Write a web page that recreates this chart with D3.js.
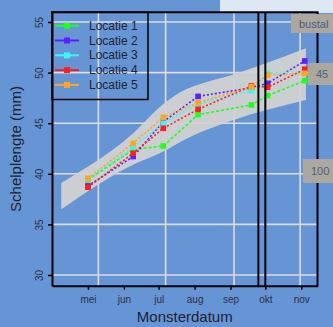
<!DOCTYPE html>
<html>
<head>
<meta charset="utf-8">
<script src="https://cdn.jsdelivr.net/npm/d3@7"></script>
<style>
  html, body { margin: 0; padding: 0; background: #6695d6; }
  svg { display: block; font-family: "Liberation Sans", Arial, sans-serif; }
</style>
</head>
<body>
<div id="chart"></div>
<script>
// data
const monthLabels = ['mei', 'jun', 'jul', 'aug', 'sep', 'okt', 'nov'];
const monthDates = ['2023-05-01', '2023-06-01', '2023-07-01', '2023-08-01', '2023-09-01', '2023-10-01', '2023-11-01'];
const gridDates = ['2023-05-10', '2023-07-07', '2023-09-04', '2023-10-31'];
const yTicks = [30, 35, 40, 45, 50, 55];
const sampleDates = ['2023-05-01', '2023-06-09', '2023-07-05', '2023-08-04', '2023-09-19', '2023-10-03', '2023-11-04'];
const locatie1 = [39.4, 42.4, 42.75, 45.85, 46.8, 47.74, 49.2];
const locatie2 = [38.8, 41.7, 45.15, 47.65, 48.5, 48.94, 51.15];
const locatie3 = [39.5, 42.65, 45.0, 46.9, 48.2, 49.96, 50.1];
const locatie4 = [38.67, 42.03, 44.5, 46.37, 48.68, 48.55, 50.33];
const locatie5 = [39.56, 43.01, 45.58, 47.03, 48.6, 49.76, 49.93];
const seriesNames = ['Locatie 1', 'Locatie 2', 'Locatie 3', 'Locatie 4', 'Locatie 5'];
const bandDates = ['2023-04-08', '2023-06-09', '2023-07-05', '2023-07-22', '2023-08-04', '2023-09-03', '2023-11-05'];
const bandHigh = [39.1, 44.0, 46.9, 48.2, 48.8, 49.8, 52.4];
const bandLow = [36.5, 40.9, 42.2, 43.3, 44.0, 45.3, 47.3];
const markDates = ['2023-09-25', '2023-10-01'];
const sideLabels = ['bustal', '45', '100'];

const colors = ['#1eff1e', '#5a1eff', '#3cf5f5', '#ff1e1e', '#ffa51e'];

const parse = d3.timeParse('%Y-%m-%d');
const width = 333, height = 327;

const svg = d3.select('#chart').append('svg')
  .attr('width', width)
  .attr('height', height);

const x = d3.scaleTime()
  .domain([parse('2023-03-31'), parse('2023-11-15')])
  .range([52, 317.5]);
const y = d3.scaleLinear()
  .domain([28.94, 55.96])
  .range([285.7, 12.3]);

// light box peeking in at the top
svg.append('rect')
  .attr('x', 220).attr('y', -2).attr('width', 120).attr('height', 15)
  .attr('fill', '#dde8f2');

// grid
const grid = svg.append('g').attr('class', 'grid');
grid.selectAll('line.h')
  .data(yTicks)
  .enter().append('line')
  .attr('class', 'h')
  .attr('x1', x.range()[0]).attr('x2', x.range()[1])
  .attr('y1', d => y(d)).attr('y2', d => y(d))
  .attr('stroke', '#dcdcdc').attr('stroke-width', 1.6);
grid.selectAll('line.v')
  .data(gridDates.map(parse))
  .enter().append('line')
  .attr('class', 'v')
  .attr('x1', d => x(d)).attr('x2', d => x(d))
  .attr('y1', y.range()[1]).attr('y2', y.range()[0])
  .attr('stroke', '#dcdcdc').attr('stroke-width', 1.6);

// ribbon
const bandData = bandDates.map((d, i) => ({ date: parse(d), lo: bandLow[i], hi: bandHigh[i] }));
const area = d3.area()
  .curve(d3.curveMonotoneX)
  .x(d => x(d.date))
  .y0(d => y(d.lo))
  .y1(d => y(d.hi));
svg.append('path')
  .datum(bandData)
  .attr('d', area)
  .attr('fill', '#d2d2d2')
  .attr('opacity', 0.95);

// series
const all = [locatie1, locatie2, locatie3, locatie4, locatie5];
const series = all.map((vals, i) => ({
  name: seriesNames[i],
  color: colors[i],
  points: vals.map((v, j) => ({ date: parse(sampleDates[j]), value: v }))
}));

const line = d3.line()
  .x(d => x(d.date))
  .y(d => y(d.value));

const loc = svg.selectAll('.locatie')
  .data(series)
  .enter().append('g')
  .attr('class', 'locatie');

loc.append('path')
  .attr('d', d => line(d.points))
  .attr('fill', 'none')
  .attr('stroke', d => d.color)
  .attr('stroke-width', 1.6)
  .attr('stroke-dasharray', (d, i) => i === 0 ? '3,2' : '2,2');

// double vertical markers
svg.selectAll('line.mark')
  .data(markDates.map(parse))
  .enter().append('line')
  .attr('class', 'mark')
  .attr('x1', d => x(d)).attr('x2', d => x(d))
  .attr('y1', y.range()[1]).attr('y2', y.range()[0])
  .attr('stroke', '#000').attr('stroke-width', 2);

loc.selectAll('rect')
  .data(d => d.points.map(p => ({ p: p, color: d.color })))
  .enter().append('rect')
  .attr('x', d => x(d.p.date) - 2.8)
  .attr('y', d => y(d.p.value) - 2.8)
  .attr('width', 5.6).attr('height', 5.6)
  .attr('fill', d => d.color);

// axes
const xAxis = d3.axisBottom(x)
  .tickValues(monthDates.map(parse))
  .tickFormat((d, i) => monthLabels[i])
  .tickSize(4)
  .tickSizeOuter(0);
const gx = svg.append('g')
  .attr('transform', 'translate(0,' + y.range()[0] + ')')
  .call(xAxis);
gx.select('.domain').attr('stroke', '#000').attr('stroke-width', 2);
gx.selectAll('.tick line').attr('stroke', '#000').attr('stroke-width', 1.5);
gx.selectAll('.tick text')
  .attr('y', 10)
  .attr('fill', '#2b3040')
  .style('font-size', '10px');

const yAxis = d3.axisLeft(y)
  .tickValues(yTicks)
  .tickSize(4)
  .tickSizeOuter(0);
const gy = svg.append('g')
  .attr('transform', 'translate(' + x.range()[0] + ',0)')
  .call(yAxis);
gy.select('.domain').attr('stroke', '#000').attr('stroke-width', 2);
gy.selectAll('.tick line').attr('stroke', '#000').attr('stroke-width', 1.5);
gy.selectAll('.tick text')
  .attr('x', 0).attr('dy', 0)
  .attr('transform', 'translate(-9,0) rotate(-90)')
  .attr('text-anchor', 'middle')
  .attr('fill', '#2b3040')
  .style('font-size', '10px');

// top and right frame
svg.append('line')
  .attr('x1', x.range()[0] - 1).attr('x2', x.range()[1] + 1)
  .attr('y1', y.range()[1]).attr('y2', y.range()[1])
  .attr('stroke', '#000').attr('stroke-width', 2);
svg.append('line')
  .attr('x1', x.range()[1]).attr('x2', x.range()[1])
  .attr('y1', y.range()[1]).attr('y2', y.range()[0] + 1)
  .attr('stroke', '#000').attr('stroke-width', 2);

// axis titles
svg.append('text')
  .attr('x', (x.range()[0] + x.range()[1]) / 2)
  .attr('y', 322)
  .attr('text-anchor', 'middle')
  .attr('fill', '#1d2233')
  .style('font-size', '15px')
  .text('Monsterdatum');
svg.append('text')
  .attr('transform', 'translate(21,' + ((y.range()[0] + y.range()[1]) / 2) + ') rotate(-90)')
  .attr('text-anchor', 'middle')
  .attr('fill', '#1d2233')
  .style('font-size', '15px')
  .text('Schelplengte (mm)');

// legend
const legend = svg.append('g').attr('class', 'legend');
legend.append('rect')
  .attr('x', 52).attr('y', 12.3).attr('width', 96).attr('height', 87.2)
  .attr('fill', 'none').attr('stroke', '#000').attr('stroke-width', 1.5);
const li = legend.selectAll('g.item')
  .data(series)
  .enter().append('g')
  .attr('class', 'item')
  .attr('transform', (d, i) => 'translate(0,' + (25.7 + i * 14.8) + ')');
li.append('line')
  .attr('x1', 55).attr('x2', 79)
  .attr('stroke', d => d.color).attr('stroke-width', 2);
li.append('rect')
  .attr('x', 64).attr('y', -3).attr('width', 6).attr('height', 6)
  .attr('fill', d => d.color);
li.append('text')
  .attr('x', 89).attr('y', 4)
  .attr('fill', '#1e2230')
  .style('font-size', '12px')
  .text(d => d.name);

// grey tags at the right edge
const tags = [
  { text: sideLabels[0], x: 291, y: 14, h: 19 },
  { text: sideLabels[1], x: 308, y: 63, h: 22 },
  { text: sideLabels[2], x: 303, y: 159, h: 24 }
];
const tg = svg.selectAll('g.tag')
  .data(tags)
  .enter().append('g')
  .attr('class', 'tag');
tg.append('rect')
  .attr('x', d => d.x).attr('y', d => d.y)
  .attr('width', d => width - d.x + 2).attr('height', d => d.h)
  .attr('fill', '#aca79f');
tg.append('text')
  .attr('x', d => d.x + 8)
  .attr('y', d => d.y + d.h / 2 + 4)
  .attr('fill', '#4c5d7d')
  .style('font-size', '11px')
  .text(d => d.text);
</script>
</body>
</html>
